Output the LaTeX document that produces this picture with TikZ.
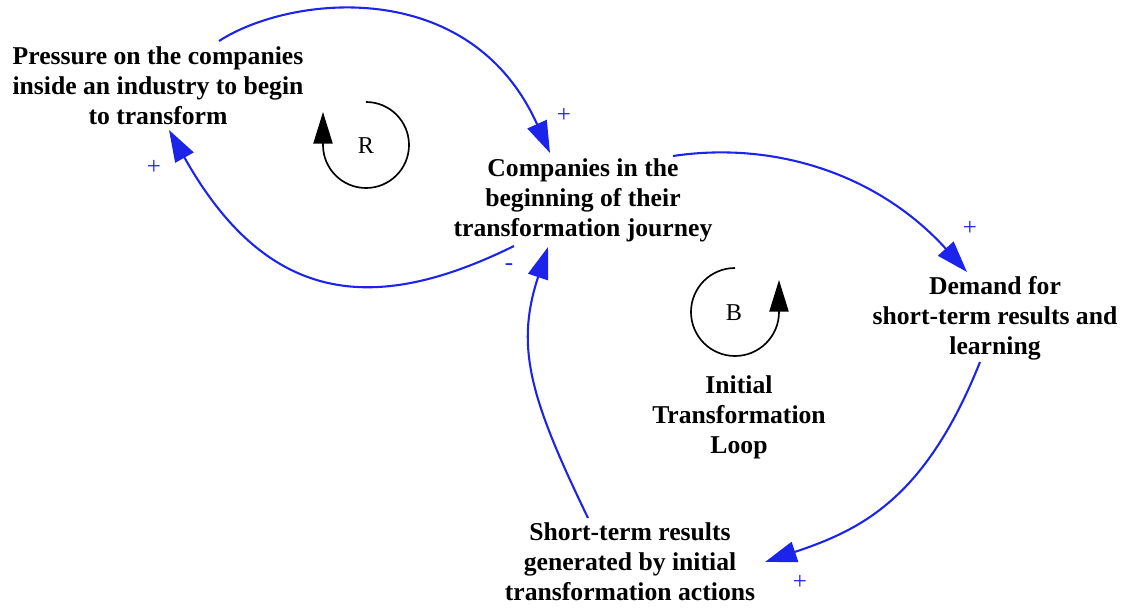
\documentclass[tikz,border=0pt]{standalone}
\usepackage{fontspec}
\setmainfont{Liberation Serif}
\usetikzlibrary{arrows.meta}
\definecolor{linkblue}{RGB}{28,36,235}
\begin{document}
\begin{tikzpicture}[x=0.6pt,y=-0.6pt,
  var/.style={align=center,inner sep=0pt,
    font=\fontsize{15.4}{18}\selectfont\bfseries},
  link/.style={draw=linkblue,line width=1.25pt,
    -{Triangle[length=19pt,width=12.5pt]}},
  sign/.style={text=linkblue,inner sep=0pt,font=\fontsize{15}{15}\selectfont},
  loopname/.style={inner sep=0pt,font=\fontsize{14.5}{15}\selectfont},
  looparc/.style={draw=black,line width=1pt},
  looptip/.style={draw=black,line width=1pt,-{Triangle[length=19pt,width=11.5pt]}}]
\path[use as bounding box] (0,0) rectangle (1128,608);

% variables
\node[var] (press) at (158,86) {Pressure on the companies\\inside an industry to begin\\to transform};
\node[var] (comp) at (583,200) {Companies in the\\beginning of their\\transformation journey};
\node[var] (dem) at (995,318) {Demand for\\short-term results and\\learning};
\node[var] (short) at (630,562) {Short-term results\\generated by initial\\transformation actions};
\node[var] (title) at (739,417) {Initial\\Transformation\\Loop};

% causal links
\draw[link] ([shift={(61,-45)}]press.center)
  .. controls (290,-5) and (470,-25) .. ([shift={(-33,-47)}]comp.center);
\draw[link] ([shift={(-69,46)}]comp.center)
  .. controls (380,312) and (270,310) .. ([shift={(11,44)}]press.center);
\draw[link] ([shift={(90,-44)}]comp.center)
  .. controls (773,141) and (877,173) .. ([shift={(-28,-46)}]dem.center);
\draw[link] ([shift={(-15,44)}]dem.center)
  .. controls (925,500) and (860,530) .. ([shift={(135,0)}]short.center);
\draw[link] ([shift={(-42,-44)}]short.center)
  .. controls (530,398) and (515,347) .. ([shift={(-35,47)}]comp.center);

% polarity signs
\node[sign] (s1) at (564,115) {+};
\node[sign] (s2) at (154,167) {+};
\node[sign] (s3) at (509,267) {-};
\node[sign] (s4) at (970,228) {+};
\node[sign] (s5) at (800,582) {+};

% loop markers
\node[loopname] (R) at (366,146) {R};
\draw[looparc] (366,102) arc[start angle=-90,end angle=180,radius=43] coordinate (rend);
\draw[looptip] (rend) -- ++(0,-33);
\node[loopname] (B) at (734,313) {B};
\draw[looparc] (735,268) arc[start angle=-90,end angle=-360,radius=44] coordinate (bend);
\draw[looptip] (bend) -- ++(0,-32);
\end{tikzpicture}
\end{document}
